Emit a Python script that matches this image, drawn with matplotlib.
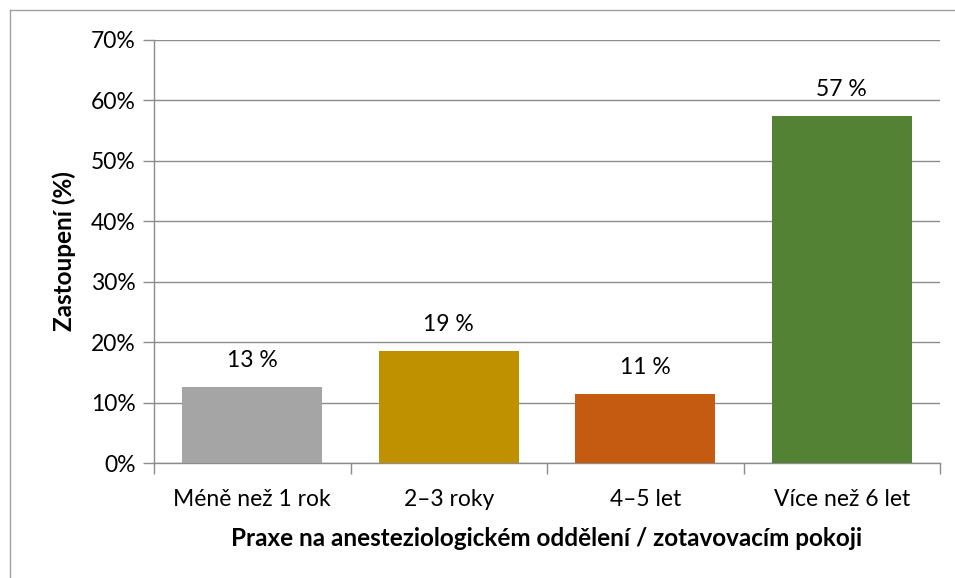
import numpy as np
import matplotlib
matplotlib.use("Agg")
import matplotlib.pyplot as plt
from matplotlib.lines import Line2D

categories = ["Méně než 1 rok", "2–3 roky", "4–5 let", "Více než 6 let"]
values = [12.6, 18.6, 11.5, 57.4]
labels = ["13 %", "19 %", "11 %", "57 %"]
colors = ["#A5A5A5", "#BF9000", "#C55A11", "#548235"]

plt.rcParams['font.family'] = ['Lato', 'DejaVu Sans']

fig = plt.figure(figsize=(9.55, 5.78), dpi=100)
W, H = 955, 578
ax = fig.add_axes([154 / W, 1 - 463 / H, (940 - 154) / W, (463 - 40) / H])

x = np.arange(len(categories))
ax.bar(x, values, width=0.71, color=colors, zorder=3)
for xi, v, lab in zip(x, values, labels):
    ax.text(xi, v + 2.6, lab, ha="center", va="bottom", fontsize=16.5, color="#000000")

ax.set_xlim(-0.5, 3.5)
ax.set_ylim(0, 70)
ax.set_yticks(np.arange(0, 71, 10))
ax.set_yticklabels([f"{t}%" for t in range(0, 71, 10)], fontsize=16.5)
ax.set_xticks(x)
ax.set_xticklabels(categories, fontsize=16.5)
ax.set_xticks(np.arange(-0.5, 3.6, 1), minor=True)
ax.tick_params(axis="x", which="major", length=0, pad=19)
ax.tick_params(axis="x", which="minor", length=8, color="#8C8C8C", width=1)
ax.tick_params(axis="y", length=8, color="#8C8C8C", width=1, pad=5)
ax.grid(axis="y", color="#8C8C8C", linewidth=1, zorder=0)

for s in ["top", "right"]:
    ax.spines[s].set_visible(False)
for s in ["left", "bottom"]:
    ax.spines[s].set_color("#8C8C8C")
    ax.spines[s].set_linewidth(1)

ax.set_ylabel("Zastoupení (%)", fontsize=17.5, fontweight="bold", labelpad=11)
ax.set_xlabel("Praxe na anesteziologickém oddělení / zotavovacím pokoji",
              fontsize=17.5, fontweight="bold", labelpad=12)

# outer chart border (left and top visible)
fig.add_artist(Line2D([10 / W, 10 / W], [0, 1 - 10 / H], color="#A0A0A0", lw=1))
fig.add_artist(Line2D([10 / W, 1], [1 - 10 / H, 1 - 10 / H], color="#A0A0A0", lw=1))

fig.savefig("out.png", dpi=100)
